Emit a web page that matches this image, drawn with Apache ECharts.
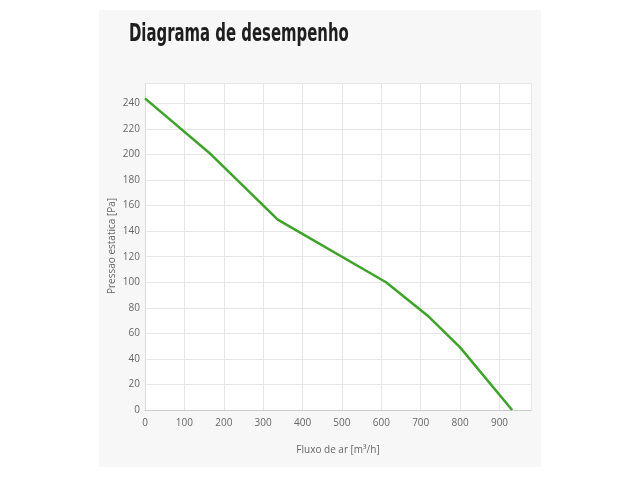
<!DOCTYPE html>
<html><head><meta charset="utf-8">
<script src="https://cdn.jsdelivr.net/npm/echarts@6/dist/echarts.min.js"></script>
<style>html,body{margin:0;padding:0;background:#fff}#c{width:640px;height:480px}</style>
</head><body><div id="c"></div>
<script>
const titleText = 'Diagrama de desempenho';
const xName = 'Fluxo de ar [m³/h]';
const yName = 'Pressao estatica [Pa]';
const flow = [0, 168, 337, 612, 717, 800, 932];
const pressure = [244, 200, 149, 100, 74, 49, 0];

const chart = echarts.init(document.getElementById('c'));
chart.setOption({
  animation: false,
  backgroundColor: '#fff',
  graphic: [
    {type:'rect', shape:{x:99,y:10,width:442,height:457}, style:{fill:'#f7f7f7'}, z:-10},
    {type:'text', x:129, y:23, scaleX:0.69, originX:0, originY:0, z:10,
      style:{text:titleText, font:"bold 24px 'DejaVu Sans Condensed', sans-serif", fill:'#1e1e1e', textVerticalAlign:'top'}},
    {type:'text', x:112, y:246, rotation:Math.PI/2, z:10,
      style:{text:yName, font:"10px 'Open Sans'", fill:'#666', textAlign:'center', textVerticalAlign:'middle'}}
  ],
  grid: {left:145, right:109, top:83, bottom:70, show:true, backgroundColor:'#fff', borderWidth:0},
  xAxis: {type:'value', min:0, max:980, interval:100, name:xName, nameLocation:'middle', nameGap:35,
    nameTextStyle:{fontFamily:'Open Sans', fontSize:10, color:'#666'},
    axisLine:{show:true, lineStyle:{color:'#ccc'}}, axisTick:{show:false},
    axisLabel:{fontFamily:'Open Sans', fontSize:10, color:'#666', margin:8, showMaxLabel:false},
    splitLine:{lineStyle:{color:'#e6e6e6'}}},
  yAxis: {type:'value', min:0, max:256, interval:20,
    axisLine:{show:true, lineStyle:{color:'#ddd'}}, axisTick:{show:false},
    axisLabel:{fontFamily:'Open Sans', fontSize:10, color:'#666', margin:5, showMaxLabel:false},
    splitLine:{lineStyle:{color:'#e6e6e6'}}},
  series: [{type:'line', data: flow.map((x,i)=>[x, pressure[i]]), showSymbol:false,
    lineStyle:{color:'#3ea32a', width:2.5}, itemStyle:{color:'#3ea32a'}}]
});
</script></body></html>
